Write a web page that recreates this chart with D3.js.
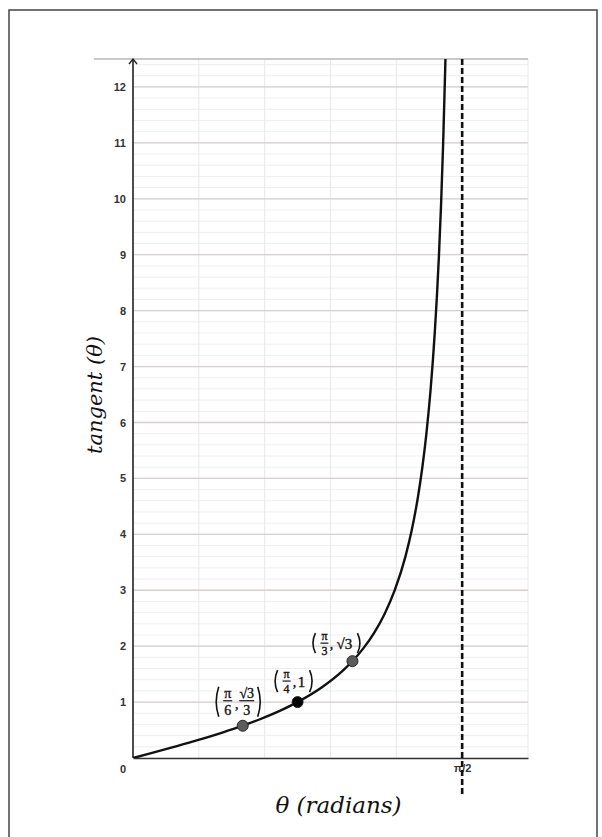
<!DOCTYPE html>
<html>
<head>
<meta charset="utf-8">
<script src="https://cdn.jsdelivr.net/npm/d3@7"></script>
<style>
  body { margin: 0; background: #fff; }
  svg { display: block; }
</style>
</head>
<body>
<div id="chart"></div>
<script>
// tangent curve samples (theta in radians, tan value)
const curveTheta = [0, 0.1, 0.2, 0.3, 0.4, 0.5, 0.6, 0.7, 0.8, 0.9, 1.0, 1.05, 1.1, 1.15, 1.2, 1.25,
    1.3, 1.33, 1.36, 1.38, 1.4, 1.42, 1.44, 1.45, 1.46, 1.47, 1.48, 1.49, 1.491];
const curveTan = [0, 0.100, 0.203, 0.309, 0.423, 0.546, 0.684, 0.842, 1.030, 1.260, 1.557, 1.743, 1.965, 2.234, 2.572, 3.010,
    3.602, 4.072, 4.673, 5.177, 5.798, 6.581, 7.602, 8.238, 8.989, 9.887, 10.983, 12.350, 12.505];

// highlighted points
const pointTheta = [Math.PI / 6, Math.PI / 4, Math.PI / 3];
const pointTan = [0.577, 1, 1.732];
const pointFill = ["#5c5c5c", "#000000", "#5c5c5c"];

// ticks / grid
const yTicks = [0, 1, 2, 3, 4, 5, 6, 7, 8, 9, 10, 11, 12];
const yMinor = d3.range(0, 12.5, 0.2);
const xGrid = [0, 1, 2, 3, 4, 5, 6].map(k => k * Math.PI / 10);
const asymptote = Math.PI / 2;
const xTickLabels = ["π/2"];

let width = 602,
    height = 837;

let margin = { top: 59, bottom: 79, left: 133, right: 74 };

const svg = d3.select('#chart')
    .append('svg')
    .attr('width', width)
    .attr('height', height);

// frame round the picture
svg.append('path')
    .attr('d', `M9,${height + 5} V10 H597 V${height + 5}`)
    .attr('fill', 'none')
    .attr('stroke', '#444')
    .attr('stroke-width', 1.5);

const x = d3.scaleLinear()
    .domain([0, 0.6 * Math.PI])
    .range([margin.left, width - margin.right]);

const y = d3.scaleLinear()
    .domain([0, 12.5])
    .range([height - margin.bottom, margin.top]);

// minor horizontal grid
svg.append('g')
    .selectAll('line')
    .data(yMinor)
    .enter()
    .append('line')
    .attr('x1', x(0)).attr('x2', x.range()[1])
    .attr('y1', d => y(d)).attr('y2', d => y(d))
    .attr('stroke', '#eeeeee')
    .attr('stroke-width', 1);

// vertical grid
svg.append('g')
    .selectAll('line')
    .data(xGrid)
    .enter()
    .append('line')
    .attr('x1', d => x(d)).attr('x2', d => x(d))
    .attr('y1', y(0)).attr('y2', y(12.5))
    .attr('stroke', '#e8e8e8')
    .attr('stroke-width', 1);

// major horizontal grid
svg.append('g')
    .selectAll('line')
    .data(yTicks.slice(1))
    .enter()
    .append('line')
    .attr('x1', x(0)).attr('x2', x.range()[1])
    .attr('y1', d => y(d)).attr('y2', d => y(d))
    .attr('stroke', '#d7d0cc')
    .attr('stroke-width', 1.3);

// top border line of the plot
svg.append('line')
    .attr('x1', 94).attr('x2', x.range()[1])
    .attr('y1', y(12.5)).attr('y2', y(12.5))
    .attr('stroke', '#c9c9c9')
    .attr('stroke-width', 2);

// y axis labels
const yAxis = svg.append('g')
    .attr('transform', `translate(${margin.left},0)`)
    .call(d3.axisLeft(y).tickValues(yTicks).tickSize(0).tickPadding(7).tickFormat(d3.format('d')));
yAxis.select('.domain').remove();
yAxis.selectAll('text')
    .attr('font-family', 'Liberation Sans, Arial, sans-serif')
    .attr('font-size', 11)
    .attr('font-weight', 'bold')
    .attr('fill', '#333')
    .attr('dy', d => d === 0 ? '1.3em' : '0.32em');

// x axis
const xAxis = svg.append('g')
    .attr('transform', `translate(0,${y(0)})`)
    .call(d3.axisBottom(x).tickValues([asymptote]).tickSize(0).tickPadding(6)
        .tickFormat((d, i) => xTickLabels[i]));
xAxis.select('.domain')
    .attr('stroke', '#333')
    .attr('stroke-width', 1.5);
xAxis.selectAll('text')
    .attr('font-family', 'Liberation Sans, Arial, sans-serif')
    .attr('font-size', 11)
    .attr('font-weight', 'bold')
    .attr('fill', '#333');

// y axis line with arrow
svg.append('line')
    .attr('x1', x(0)).attr('x2', x(0))
    .attr('y1', y(0)).attr('y2', y(12.5))
    .attr('stroke', '#222')
    .attr('stroke-width', 1.6);
svg.append('path')
    .attr('d', `M${x(0) - 4},${y(12.5) + 5} L${x(0)},${y(12.5)} L${x(0) + 4},${y(12.5) + 5}`)
    .attr('fill', 'none')
    .attr('stroke', '#222')
    .attr('stroke-width', 1.4);

// asymptote
svg.append('line')
    .attr('x1', x(asymptote)).attr('x2', x(asymptote))
    .attr('y1', y(12.5)).attr('y2', 794)
    .attr('stroke', '#111')
    .attr('stroke-width', 2.6)
    .attr('stroke-dasharray', '6,3');

// clip for the curve
svg.append('clipPath')
    .attr('id', 'plot')
    .append('rect')
    .attr('x', x(0)).attr('y', y(12.5))
    .attr('width', x.range()[1] - x(0))
    .attr('height', y(0) - y(12.5));

const line = d3.line()
    .x((d, i) => x(curveTheta[i]))
    .y(d => y(d))
    .curve(d3.curveMonotoneX);

svg.append('path')
    .datum(curveTan)
    .attr('clip-path', 'url(#plot)')
    .attr('fill', 'none')
    .attr('stroke', '#111')
    .attr('stroke-width', 2.4)
    .attr('d', line);

// points
svg.append('g')
    .selectAll('circle')
    .data(pointTheta)
    .enter()
    .append('circle')
    .attr('cx', d => x(d))
    .attr('cy', (d, i) => y(pointTan[i]))
    .attr('r', 5.5)
    .attr('fill', (d, i) => pointFill[i])
    .attr('stroke', '#222')
    .attr('stroke-width', 1);

// coordinate labels, built from small pieces
const serif = 'Liberation Serif, serif';

function paren(g, px, top, bottom, left) {
    const mid = (top + bottom) / 2;
    const bend = left ? -5 : 5;
    g.append('path')
        .attr('d', `M${px},${top} Q${px + bend},${mid} ${px},${bottom}`)
        .attr('fill', 'none')
        .attr('stroke', '#111')
        .attr('stroke-width', 1.6);
}

function txt(g, px, py, size, s) {
    g.append('text').attr('x', px).attr('y', py)
        .attr('text-anchor', 'middle').attr('font-family', serif)
        .attr('font-size', size).attr('fill', '#111')
        .attr('stroke', '#111').attr('stroke-width', 0.35)
        .text(s);
}

function frac(g, cx, num, den, size, w) {
    txt(g, cx, -3, size, num);
    g.append('line')
        .attr('x1', cx - w / 2).attr('x2', cx + w / 2)
        .attr('y1', 0).attr('y2', 0)
        .attr('stroke', '#111').attr('stroke-width', 1.2);
    txt(g, cx, size, size, den);
}

// (π/6, √3/3)
const l1 = svg.append('g')
    .attr('transform', `translate(${x(pointTheta[0]) - 5},${y(pointTan[0]) - 25})`);
paren(l1, -19, -14, 16, true);
frac(l1, -10, 'π', '6', 14, 9);
txt(l1, -1, 8, 14, ',');
frac(l1, 9, '√3', '3', 14, 15);
paren(l1, 20, -14, 16, false);

// (π/4, 1)
const l2 = svg.append('g')
    .attr('transform', `translate(${x(pointTheta[1]) - 4},${y(pointTan[1]) - 21})`);
paren(l2, -16, -11, 11, true);
frac(l2, -7, 'π', '4', 12, 8);
txt(l2, 1, 6, 14, ',');
txt(l2, 8, 6, 15, '1');
paren(l2, 16, -11, 11, false);

// (π/3, √3)
const l3 = svg.append('g')
    .attr('transform', `translate(${x(pointTheta[2]) - 16},${y(pointTan[2]) - 18})`);
paren(l3, -21, -10, 10, true);
frac(l3, -12, 'π', '3', 12, 8);
txt(l3, -5, 6, 14, ',');
txt(l3, 8, 6, 15, '√3');
paren(l3, 21, -10, 10, false);

// axis titles
svg.append('text')
    .attr('x', (x(0) + x.range()[1]) / 2 + 8)
    .attr('y', 813)
    .attr('text-anchor', 'middle')
    .attr('font-family', 'DejaVu Serif, serif')
    .attr('font-style', 'italic')
    .attr('font-size', 23)
    .attr('fill', '#111')
    .text('θ (radians)');

svg.append('text')
    .attr('transform', `translate(102,${395}) rotate(-90)`)
    .attr('text-anchor', 'middle')
    .attr('font-family', 'DejaVu Serif, serif')
    .attr('font-style', 'italic')
    .attr('font-size', 21)
    .attr('fill', '#111')
    .text('tangent (θ)');
</script>
</body>
</html>
